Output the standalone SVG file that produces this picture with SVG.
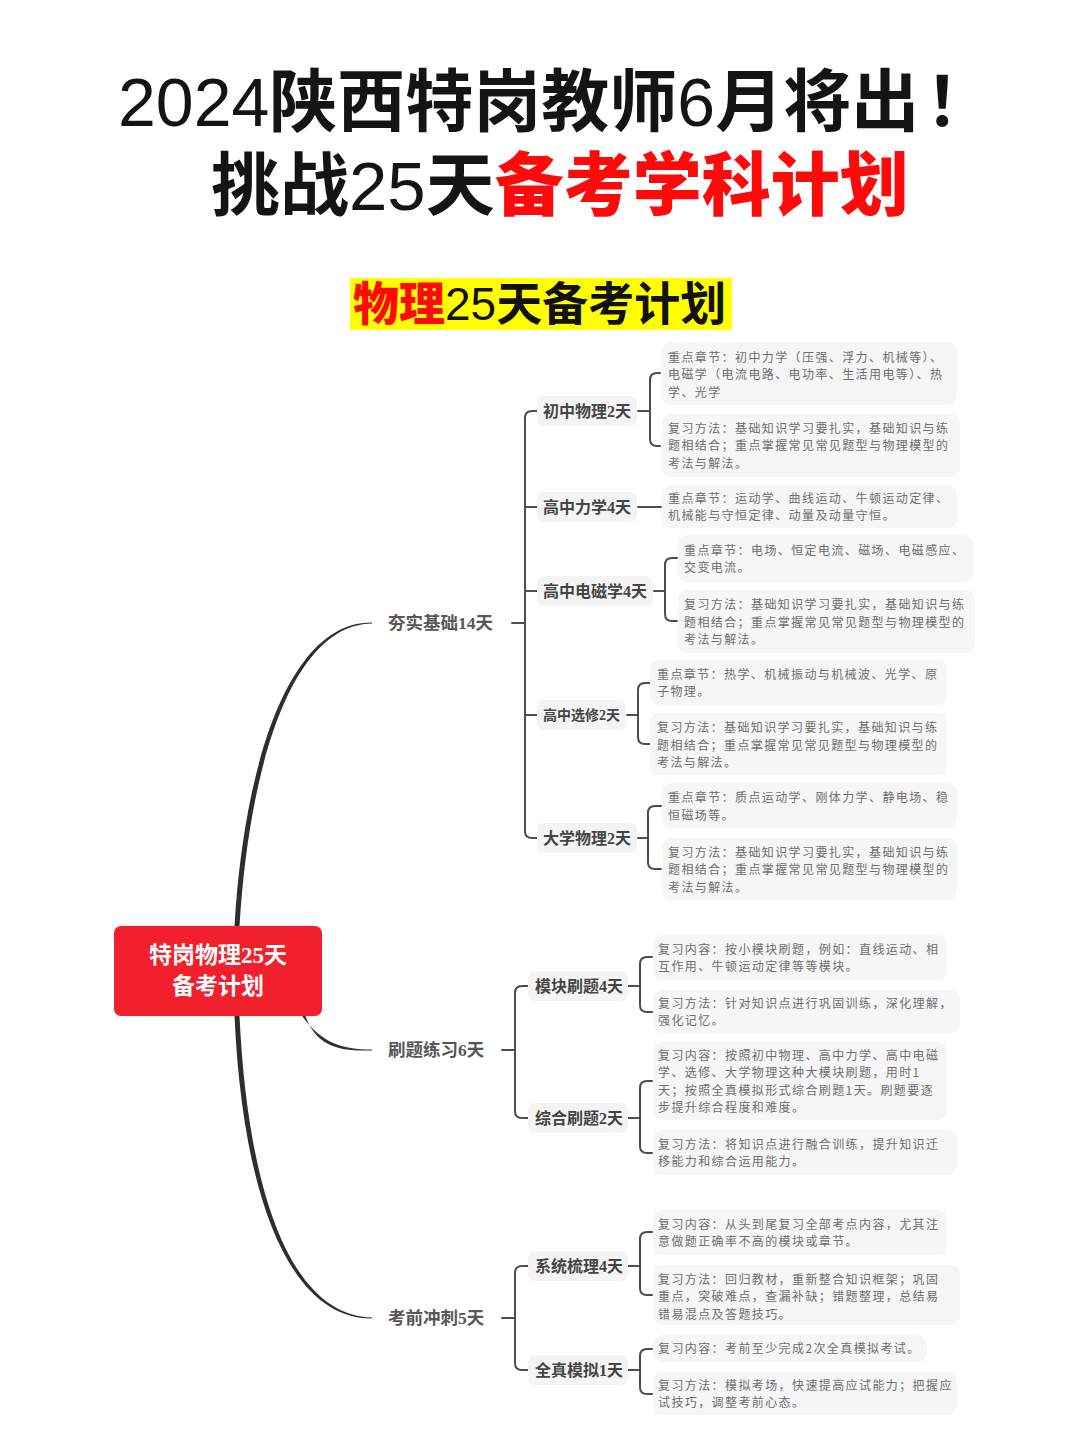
<svg xmlns="http://www.w3.org/2000/svg" width="1080" height="1439" viewBox="0 0 1080 1439">
<style>
.t1{font-family:"Liberation Sans","Noto Sans CJK SC",sans-serif;font-size:68px;font-weight:700;fill:#141414}
.t2{font-family:"Liberation Sans","Noto Sans CJK SC",sans-serif;font-size:69px;font-weight:700;fill:#141414}
.dg{font-family:"Liberation Sans",sans-serif;font-weight:400}
.red{fill:#ff0a0a;font-weight:900}
.hl{font-family:"Liberation Sans","Noto Sans CJK SC",sans-serif;font-size:46px;font-weight:700;fill:#111}
.root{font-family:"Liberation Serif","Noto Sans CJK SC",serif;font-size:23px;font-weight:700;fill:#fff}
.l1{font-family:"Liberation Serif","Noto Sans CJK SC",serif;font-size:17.5px;font-weight:700;fill:#575757}
.l2{font-family:"Liberation Serif","Noto Sans CJK SC",serif;font-size:16px;font-weight:700;fill:#454545}
.l2s{font-size:14px}
.l2bg{fill:#f4f4f4}
.leafbg{fill:#f6f6f6}
.leaf{font-family:"Noto Sans CJK SC","Liberation Sans",sans-serif;font-size:12px;letter-spacing:1.4px;fill:#6e6e6e}
.br{fill:none;stroke:#4d4d4d;stroke-width:2;stroke-linecap:round}
.trunk{fill:#2e2e2e}
</style>
<rect width="1080" height="1439" fill="#ffffff"/>

<g id="title">
<text class="t1" x="118" y="126"><tspan class="dg">2024</tspan>陕西特岗教师<tspan class="dg">6</tspan>月将出<tspan dx="6">！</tspan></text>
<text class="t2" x="211" y="210">挑战<tspan class="dg">25</tspan>天<tspan class="red">备考学科计划</tspan></text>
</g>

<g id="subtitle">
<rect x="350" y="278" width="382" height="52" fill="#ffff00"/>
<text class="hl" x="353" y="320"><tspan fill="#ff0a0a" font-weight="900">物理</tspan><tspan class="dg">25</tspan>天备考计划</text>
</g>

<g id="connectors">
<path class="trunk" d="M234.5,926 C244.5,758 291,621.5 372,622.5 L372,623.5 C293,624.5 249.5,762 239.5,926 Z"/>
<path class="trunk" d="M300,1013 C320,1042 340,1049.5 372,1049.5 L372,1050.5 C338,1051.5 316,1046 305,1015 Z"/>
<path class="trunk" d="M234.5,1016 C243,1202 291,1319 372,1318.5 L372,1317.5 C293,1316 248,1198 239.5,1016 Z"/>

<path class="br" d="M512,623 H525"/>
<path class="br" d="M538,411 H532 Q525,411 525,418 V831 Q525,838 532,838 H538 M525,507 H538 M525,591 H538 M525,715 H538"/>
<path class="br" d="M638,411 H650 M660,373 H657 Q650,373 650,380 V439 Q650,446 657,446 H660"/>
<path class="br" d="M638,507 H661"/>
<path class="br" d="M654,591 H665 M677,558 H672 Q665,558 665,565 V614 Q665,621 672,621 H677"/>
<path class="br" d="M627,715 H638 M650,683 H645 Q638,683 638,690 V737 Q638,744 645,744 H650"/>
<path class="br" d="M638,838 H648 M661,806 H655 Q648,806 648,813 V862 Q648,869 655,869 H661"/>

<path class="br" d="M502,1050 H515"/>
<path class="br" d="M528,986 H522 Q515,986 515,993 V1111 Q515,1118 522,1118 H528"/>
<path class="br" d="M628,986 H640 M652,957 H647 Q640,957 640,964 V1005 Q640,1012 647,1012 H652"/>
<path class="br" d="M628,1118 H640 M652,1081 H647 Q640,1081 640,1088 V1146 Q640,1153 647,1153 H652"/>

<path class="br" d="M502,1318 H515"/>
<path class="br" d="M528,1266 H522 Q515,1266 515,1273 V1363 Q515,1370 522,1370 H528"/>
<path class="br" d="M628,1266 H640 M652,1232 H647 Q640,1232 640,1239 V1288 Q640,1295 647,1295 H652"/>
<path class="br" d="M628,1370 H640 M652,1349 H647 Q640,1349 640,1356 V1387 Q640,1394 647,1394 H652"/>
</g>

<g id="root">
<rect x="114" y="926" width="208" height="90" rx="7" fill="#f1202c"/>
<text class="root" x="218" y="963" text-anchor="middle">特岗物理25天</text>
<text class="root" x="218" y="994" text-anchor="middle">备考计划</text>
</g>

<g id="branch-base">
<text class="l1" x="388" y="629">夯实基础14天</text>
</g>
<g id="branch-practice">
<text class="l1" x="388" y="1056">刷题练习6天</text>
</g>
<g id="branch-sprint">
<text class="l1" x="388" y="1324">考前冲刺5天</text>
</g>

<g id="n-chuzhong">
<rect class="l2bg" x="537" y="396" width="100" height="30" rx="7"/>
<text class="l2" x="543" y="416.5">初中物理2天</text>
</g>
<g id="n-lixue">
<rect class="l2bg" x="537" y="492" width="100" height="30" rx="7"/>
<text class="l2" x="543" y="512.5">高中力学4天</text>
</g>
<g id="n-dianci">
<rect class="l2bg" x="537" y="576" width="116" height="30" rx="7"/>
<text class="l2" x="543" y="596.5">高中电磁学4天</text>
</g>
<g id="n-xuanxiu">
<rect class="l2bg" x="537" y="700" width="89" height="30" rx="7"/>
<text class="l2 l2s" x="543" y="720">高中选修2天</text>
</g>
<g id="n-daxue">
<rect class="l2bg" x="537" y="823" width="100" height="30" rx="7"/>
<text class="l2" x="543" y="843.5">大学物理2天</text>
</g>
<g id="n-mokuai">
<rect class="l2bg" x="528" y="971" width="100" height="30" rx="7"/>
<text class="l2" x="535" y="991.5">模块刷题4天</text>
</g>
<g id="n-zonghe">
<rect class="l2bg" x="528" y="1103" width="100" height="30" rx="7"/>
<text class="l2" x="535" y="1123.5">综合刷题2天</text>
</g>
<g id="n-xitong">
<rect class="l2bg" x="528" y="1251" width="100" height="30" rx="7"/>
<text class="l2" x="535" y="1271.5">系统梳理4天</text>
</g>
<g id="n-quanzhen">
<rect class="l2bg" x="528" y="1355" width="100" height="30" rx="7"/>
<text class="l2" x="535" y="1375.5">全真模拟1天</text>
</g>

<g id="leaf-chuzhong-1">
<rect class="leafbg" x="662" y="342" width="295" height="63" rx="9"/>
<text class="leaf" x="668" y="361.5">重点章节：初中力学（压强、浮力、机械等）、</text>
<text class="leaf" x="668" y="379">电磁学（电流电路、电功率、生活用电等）、热</text>
<text class="leaf" x="668" y="396.5">学、光学</text>
</g>
<g id="leaf-chuzhong-2">
<rect class="leafbg" x="662" y="414" width="298" height="63" rx="9"/>
<text class="leaf" x="668" y="432.5">复习方法：基础知识学习要扎实，基础知识与练</text>
<text class="leaf" x="668" y="450">题相结合；重点掌握常见常见题型与物理模型的</text>
<text class="leaf" x="668" y="467.5">考法与解法。</text>
</g>
<g id="leaf-lixue-1">
<rect class="leafbg" x="662" y="485" width="295" height="43" rx="9"/>
<text class="leaf" x="668" y="502.5">重点章节：运动学、曲线运动、牛顿运动定律、</text>
<text class="leaf" x="668" y="520">机械能与守恒定律、动量及动量守恒。</text>
</g>
<g id="leaf-dianci-1">
<rect class="leafbg" x="678" y="535" width="295" height="47" rx="9"/>
<text class="leaf" x="684" y="554.5">重点章节：电场、恒定电流、磁场、电磁感应、</text>
<text class="leaf" x="684" y="572">交变电流。</text>
</g>
<g id="leaf-dianci-2">
<rect class="leafbg" x="678" y="590" width="297" height="63" rx="9"/>
<text class="leaf" x="684" y="609">复习方法：基础知识学习要扎实，基础知识与练</text>
<text class="leaf" x="684" y="626.5">题相结合；重点掌握常见常见题型与物理模型的</text>
<text class="leaf" x="684" y="644">考法与解法。</text>
</g>
<g id="leaf-xuanxiu-1">
<rect class="leafbg" x="650" y="660" width="297" height="45" rx="9"/>
<text class="leaf" x="657" y="678.5">重点章节：热学、机械振动与机械波、光学、原</text>
<text class="leaf" x="657" y="696">子物理。</text>
</g>
<g id="leaf-xuanxiu-2">
<rect class="leafbg" x="650" y="713" width="297" height="62" rx="9"/>
<text class="leaf" x="657" y="732">复习方法：基础知识学习要扎实，基础知识与练</text>
<text class="leaf" x="657" y="749.5">题相结合；重点掌握常见常见题型与物理模型的</text>
<text class="leaf" x="657" y="767">考法与解法。</text>
</g>
<g id="leaf-daxue-1">
<rect class="leafbg" x="662" y="783" width="295" height="45" rx="9"/>
<text class="leaf" x="668" y="802">重点章节：质点运动学、刚体力学、静电场、稳</text>
<text class="leaf" x="668" y="819.5">恒磁场等。</text>
</g>
<g id="leaf-daxue-2">
<rect class="leafbg" x="662" y="838" width="295" height="62" rx="9"/>
<text class="leaf" x="668" y="856.5">复习方法：基础知识学习要扎实，基础知识与练</text>
<text class="leaf" x="668" y="874">题相结合；重点掌握常见常见题型与物理模型的</text>
<text class="leaf" x="668" y="891.5">考法与解法。</text>
</g>
<g id="leaf-mokuai-1">
<rect class="leafbg" x="653" y="935" width="294" height="45" rx="9"/>
<text class="leaf" x="658" y="953.5">复习内容：按小模块刷题，例如：直线运动、相</text>
<text class="leaf" x="658" y="971">互作用、牛顿运动定律等等模块。</text>
</g>
<g id="leaf-mokuai-2">
<rect class="leafbg" x="653" y="990" width="307" height="43" rx="9"/>
<text class="leaf" x="658" y="1007.5">复习方法：针对知识点进行巩固训练，深化理解，</text>
<text class="leaf" x="658" y="1025">强化记忆。</text>
</g>
<g id="leaf-zonghe-1">
<rect class="leafbg" x="653" y="1042" width="294" height="78" rx="9"/>
<text class="leaf" x="658" y="1059.5">复习内容：按照初中物理、高中力学、高中电磁</text>
<text class="leaf" x="658" y="1077">学、选修、大学物理这种大模块刷题，用时1</text>
<text class="leaf" x="658" y="1094.5">天；按照全真模拟形式综合刷题1天。刷题要逐</text>
<text class="leaf" x="658" y="1112">步提升综合程度和难度。</text>
</g>
<g id="leaf-zonghe-2">
<rect class="leafbg" x="653" y="1130" width="304" height="45" rx="9"/>
<text class="leaf" x="658" y="1148.5">复习方法：将知识点进行融合训练，提升知识迁</text>
<text class="leaf" x="658" y="1166">移能力和综合运用能力。</text>
</g>
<g id="leaf-xitong-1">
<rect class="leafbg" x="653" y="1210" width="294" height="45" rx="9"/>
<text class="leaf" x="658" y="1228.5">复习内容：从头到尾复习全部考点内容，尤其注</text>
<text class="leaf" x="658" y="1246">意做题正确率不高的模块或章节。</text>
</g>
<g id="leaf-xitong-2">
<rect class="leafbg" x="653" y="1265" width="307" height="60" rx="9"/>
<text class="leaf" x="658" y="1283.5">复习方法：回归教材，重新整合知识框架；巩固</text>
<text class="leaf" x="658" y="1301">重点，突破难点，查漏补缺；错题整理，总结易</text>
<text class="leaf" x="658" y="1318.5">错易混点及答题技巧。</text>
</g>
<g id="leaf-quanzhen-1">
<rect class="leafbg" x="653" y="1335" width="274" height="27" rx="9"/>
<text class="leaf" x="658" y="1353">复习内容：考前至少完成2次全真模拟考试。</text>
</g>
<g id="leaf-quanzhen-2">
<rect class="leafbg" x="653" y="1372" width="304" height="43" rx="9"/>
<text class="leaf" x="658" y="1389.5">复习方法：模拟考场，快速提高应试能力；把握应</text>
<text class="leaf" x="658" y="1407">试技巧，调整考前心态。</text>
</g>
</svg>
